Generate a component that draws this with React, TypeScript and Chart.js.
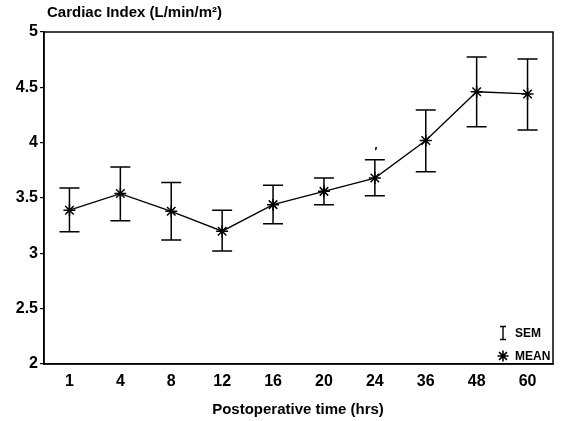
import React, { useEffect, useRef } from "react";
import { Chart, registerables } from "chart.js";

Chart.register(...registerables);

const hours = ["1", "4", "8", "12", "16", "20", "24", "36", "48", "60"];
const meanCI = [3.39, 3.54, 3.38, 3.2, 3.44, 3.56, 3.68, 4.02, 4.46, 4.44];
const semHigh = [3.59, 3.78, 3.64, 3.39, 3.615, 3.68, 3.845, 4.295, 4.775, 4.755];
const semLow = [3.195, 3.295, 3.12, 3.02, 3.267, 3.44, 3.52, 3.737, 4.144, 4.114];
const yTicks = [2, 2.5, 3, 3.5, 4, 4.5, 5];

const FONT = "'Liberation Sans', Arial, sans-serif";

const decorPlugin = {
  id: "decor",
  afterDatasetsDraw(chart: any) {
    const ctx = chart.ctx;
    const x = chart.scales.x;
    const y = chart.scales.y;
    const area = chart.chartArea;
    ctx.save();
    ctx.strokeStyle = "#000";
    ctx.lineWidth = 1.5;
    // error bars
    meanCI.forEach((_, i) => {
      const px = x.getPixelForValue(i);
      const top = y.getPixelForValue(semHigh[i]);
      const bot = y.getPixelForValue(semLow[i]);
      ctx.beginPath();
      ctx.moveTo(px, top);
      ctx.lineTo(px, bot);
      ctx.moveTo(px - 10, top);
      ctx.lineTo(px + 10, top);
      ctx.moveTo(px - 10, bot);
      ctx.lineTo(px + 10, bot);
      ctx.stroke();
    });
    // frame
    ctx.lineWidth = 1.5;
    ctx.strokeRect(area.left, area.top, area.right - area.left, area.bottom - area.top);
    // significance mark at 24h
    ctx.fillStyle = "#000";
    ctx.font = `bold 12px ${FONT}`;
    ctx.textAlign = "center";
    ctx.textBaseline = "bottom";
    const p24 = x.getPixelForValue(6);
    ctx.fillText("′", p24 + 1, y.getPixelForValue(semHigh[6]) - 1);
    // legend
    const lx = area.right - 50;
    const ly1 = area.bottom - 31;
    const ly2 = area.bottom - 8;
    ctx.lineWidth = 1.4;
    ctx.beginPath();
    ctx.moveTo(lx, ly1 - 6.5);
    ctx.lineTo(lx, ly1 + 6.5);
    ctx.moveTo(lx - 3, ly1 - 6.5);
    ctx.lineTo(lx + 3, ly1 - 6.5);
    ctx.moveTo(lx - 3, ly1 + 6.5);
    ctx.lineTo(lx + 3, ly1 + 6.5);
    ctx.stroke();
    ctx.lineWidth = 1.6;
    ctx.beginPath();
    for (let k = 0; k < 4; k++) {
      const a = (Math.PI / 4) * k;
      ctx.moveTo(lx + Math.cos(a) * 5.5, ly2 + Math.sin(a) * 5.5);
      ctx.lineTo(lx - Math.cos(a) * 5.5, ly2 - Math.sin(a) * 5.5);
    }
    ctx.stroke();
    ctx.font = `bold 12px ${FONT}`;
    ctx.textAlign = "left";
    ctx.textBaseline = "middle";
    ctx.fillText("SEM", lx + 12, ly1 + 1);
    ctx.fillText("MEAN", lx + 12, ly2 + 1);
    // titles
    ctx.font = `bold 15px ${FONT}`;
    ctx.textAlign = "left";
    ctx.fillText("Cardiac Index (L/min/m²)", 47, 13);
    ctx.textAlign = "center";
    ctx.fillText("Postoperative time (hrs)", 298, 410);
    ctx.restore();
  },
};

export default function App() {
  const ref = useRef<HTMLCanvasElement>(null);
  useEffect(() => {
    document.body.style.margin = "0";
    const chart = new Chart(ref.current as HTMLCanvasElement, {
      type: "line",
      data: {
        labels: hours,
        datasets: [
          {
            data: meanCI,
            borderColor: "#000",
            borderWidth: 1.3,
            pointStyle: "star",
            pointRadius: 6,
            pointBorderWidth: 1.5,
            pointBorderColor: "#000",
            pointBackgroundColor: "#000",
            tension: 0,
          },
        ],
      },
      options: {
        responsive: false,
        animation: false,
        layout: { padding: { left: 0, right: 9, top: 32, bottom: 0 } },
        plugins: { legend: { display: false }, tooltip: { enabled: false } },
        scales: {
          x: {
            offset: true,
            grid: { display: false },
            border: { display: true, color: "#000", width: 1.5 },
            ticks: {
              color: "#000",
              font: { family: FONT, size: 16, weight: "bold" },
              padding: 0,
            },
            afterFit(scale: any) {
              scale.height = 57;
            },
          },
          y: {
            min: 2,
            max: 5,
            afterBuildTicks(scale: any) {
              scale.ticks = yTicks.map((v) => ({ value: v }));
            },
            grid: { display: true, drawOnChartArea: false, tickLength: 4, color: "#000", lineWidth: 1.2 },
            border: { display: true, color: "#000", width: 1.5 },
            ticks: {
              color: "#000",
              font: { family: FONT, size: 16, weight: "bold" },
              padding: 2,
              callback: (v: any) => String(v),
            },
            afterFit(scale: any) {
              scale.width = 44;
            },
          },
        },
      },
      plugins: [decorPlugin],
    });
    return () => chart.destroy();
  }, []);
  return <canvas ref={ref} width={562} height={421} style={{ display: "block" }} />;
}
